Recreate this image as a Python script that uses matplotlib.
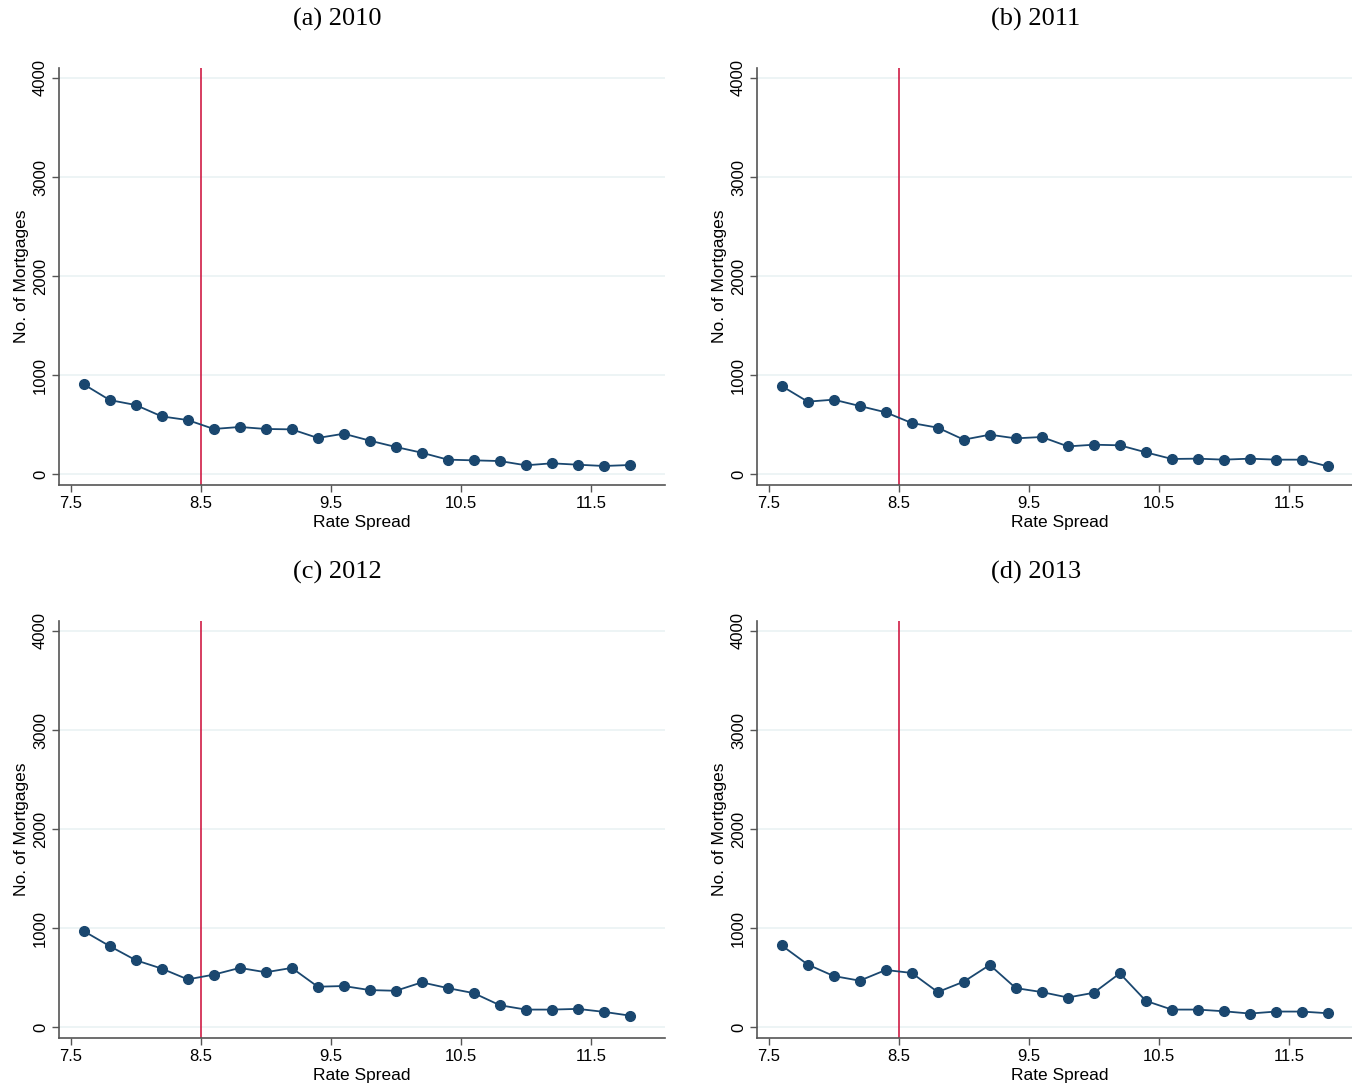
import numpy as np
import matplotlib
matplotlib.use("Agg")
import matplotlib.pyplot as plt

plt.rcParams['font.family'] = 'Liberation Sans'

# ---------------- data ----------------
spread = [7.6, 7.8, 8.0, 8.2, 8.4, 8.6, 8.8, 9.0, 9.2, 9.4, 9.6,
          9.8, 10.0, 10.2, 10.4, 10.6, 10.8, 11.0, 11.2, 11.4, 11.6, 11.8]

n_2010 = [906, 747, 697, 582, 545, 455, 475, 455, 451, 364, 407,
          337, 273, 215, 145, 138, 131, 88, 108, 94, 81, 91]
n_2011 = [889, 731, 751, 687, 623, 515, 468, 347, 397, 360, 374,
          279, 296, 290, 219, 152, 155, 145, 155, 145, 145, 77]
n_2012 = [969, 817, 675, 590, 481, 529, 597, 553, 597, 407, 414,
          373, 366, 451, 393, 342, 220, 176, 176, 183, 153, 115]
n_2013 = [824, 631, 515, 468, 576, 546, 353, 458, 627, 393, 353,
          298, 346, 542, 264, 176, 176, 159, 136, 156, 156, 139]

titles = ["(a) 2010", "(b) 2011", "(c) 2012", "(d) 2013"]
cutoff = 8.5
x_ticks = [7.5, 8.5, 9.5, 10.5, 11.5]
y_ticks = [0, 1000, 2000, 3000, 4000]

navy = '#1a476f'
red = '#d01c45'
grid_col = '#eaf2f3'

W, H = 1352, 1088
fig = plt.figure(figsize=(W / 100, H / 100), dpi=100)

# axes boxes in pixels: (left, top, right, bottom); right column runs past the edge
boxes = [(59, 68, 665, 485), (757, 68, 1363, 485),
         (59, 621, 665, 1038), (757, 621, 1363, 1038)]
title_pos = [(337, 19), (1036, 19), (337, 572), (1036, 572)]

for data, title, box, tpos in zip([n_2010, n_2011, n_2012, n_2013],
                                  titles, boxes, title_pos):
    l, t, r, b = box
    ax = fig.add_axes([l / W, 1 - b / H, (r - l) / W, (b - t) / H])

    for yv in y_ticks:
        ax.axhline(yv, color=grid_col, lw=1.2, zorder=0)
    ax.axvline(cutoff, color=red, lw=1.2, zorder=2)
    ax.plot(spread, data, color=navy, lw=1.3, marker='o', markersize=7,
            markeredgecolor=navy, zorder=3)

    ax.set_xlim(7.41, 12.07)
    ax.set_ylim(-111, 4101)
    ax.set_xticks(x_ticks)
    ax.set_xticklabels([f"{v:g}" for v in x_ticks])
    ax.set_yticks(y_ticks)
    ax.set_yticklabels([str(v) for v in y_ticks], rotation=90, va='center')

    for side in ['top', 'right']:
        ax.spines[side].set_visible(False)
    for side in ['left', 'bottom']:
        ax.spines[side].set_color('#555555')
        ax.spines[side].set_linewidth(1.2)
    ax.tick_params(axis='both', direction='out', length=5, width=1,
                   color='#555555', labelsize=12, pad=3)

    ax.set_xlabel("Rate Spread", fontsize=12.5, labelpad=2.5)
    ax.set_ylabel("No. of Mortgages", fontsize=12.5, labelpad=3)

    fig.text(tpos[0] / W, 1 - tpos[1] / H, title, ha='center', va='center',
             fontsize=19, family='Liberation Serif')

fig.savefig("out.png", dpi=100)
